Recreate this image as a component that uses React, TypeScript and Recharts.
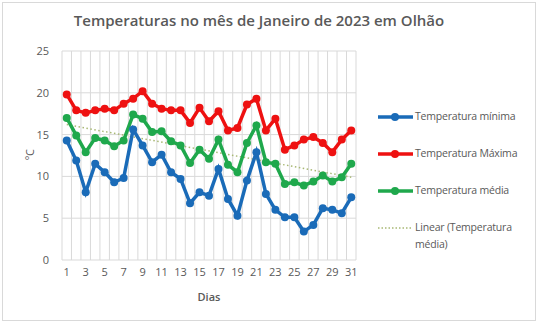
import React from "react";
import { LineChart, Line, XAxis, YAxis, CartesianGrid, ReferenceLine } from "recharts";

const days = [1, 2, 3, 4, 5, 6, 7, 8, 9, 10, 11, 12, 13, 14, 15, 16, 17, 18, 19, 20, 21, 22, 23, 24, 25, 26, 27, 28, 29, 30, 31];
const dayTicks = [1, 3, 5, 7, 9, 11, 13, 15, 17, 19, 21, 23, 25, 27, 29, 31];
const tempTicks = [0, 5, 10, 15, 20, 25];

const tempMin = [14.3, 11.9, 8.1, 11.5, 10.5, 9.3, 9.8, 15.6, 13.7, 11.7, 12.6, 10.5, 9.7, 6.8, 8.1, 7.7, 10.9, 7.3, 5.3, 9.5, 12.9, 7.9, 6.0, 5.1, 5.1, 3.4, 4.2, 6.2, 6.0, 5.6, 7.5];
const tempMax = [19.8, 17.9, 17.6, 17.9, 18.1, 17.9, 18.7, 19.3, 20.2, 18.7, 18.1, 17.9, 17.9, 16.4, 18.2, 16.6, 17.8, 15.5, 15.8, 18.6, 19.3, 15.5, 16.9, 13.2, 13.7, 14.4, 14.7, 14.0, 12.9, 14.4, 15.5];
const tempAvg = [17.0, 14.9, 12.9, 14.6, 14.3, 13.6, 14.3, 17.4, 16.9, 15.3, 15.4, 14.2, 13.7, 11.6, 13.2, 12.1, 14.4, 11.4, 10.5, 14.0, 16.1, 11.7, 11.5, 9.1, 9.3, 8.9, 9.4, 10.1, 9.4, 9.9, 11.5];

// linear trend of the average at day 1 and day 31
const trendStart = 16.2;
const trendEnd = 9.9;

const data = days.map((d, i) => ({ day: d, min: tempMin[i], max: tempMax[i], avg: tempAvg[i] }));
const boundaries = [0.5, ...days.map((d) => d + 0.5)];

const FONT = "'Open Sans', sans-serif";
const TEXT = "#595959";
const GRID = "#d9d9d9";
const BLUE = "#1a6bb8";
const RED = "#ee1111";
const GREEN = "#1fa84c";
const TREND = "#a8b874";

const tick = { fontSize: 11, fill: TEXT, fontFamily: FONT };

const LegendItem = ({ top, color, label, dotted }: { top: number; color: string; label: React.ReactNode; dotted?: boolean }) => (
  <div style={{ position: "absolute", left: 377, top, display: "flex", alignItems: "flex-start" }}>
    <svg width={38} height={12} style={{ marginTop: 1 }}>
      {dotted ? (
        <line x1={1} y1={6} x2={36} y2={6} stroke={color} strokeWidth={1.5} strokeDasharray="1.5 2" />
      ) : (
        <>
          <line x1={1} y1={6} x2={36} y2={6} stroke={color} strokeWidth={3.5} />
          <circle cx={18} cy={6} r={4} fill={color} />
        </>
      )}
    </svg>
    <div style={{ fontFamily: FONT, fontSize: 10.5, color: TEXT, lineHeight: "17px", marginTop: -2, letterSpacing: -0.2 }}>{label}</div>
  </div>
);

export default function App() {
  return (
    <div style={{ position: "fixed", left: 0, top: 0, width: 538, height: 323, background: "#fff" }}>
      <div style={{ position: "absolute", left: 2, top: 2, width: 532, height: 317, border: `1px solid ${GRID}` }} />
      <div style={{ position: "absolute", left: -10, top: 10, width: 538, textAlign: "center", fontFamily: FONT, fontSize: 15, fontWeight: 600, color: TEXT }}>
        Temperaturas no mês de Janeiro de 2023 em Olhão
      </div>
      <div style={{ position: "absolute", left: 0, top: 0 }}>
        <LineChart width={538} height={323} data={data} margin={{ top: 51, right: 182, bottom: 33, left: 20 }}>
          <CartesianGrid stroke={GRID} horizontal={true} vertical={false} />
          {boundaries.map((b) => (
            <ReferenceLine key={b} x={b} stroke={GRID} strokeWidth={1} />
          ))}
          <XAxis
            dataKey="day"
            type="number"
            domain={[0.5, 31.5]}
            ticks={dayTicks}
            interval={0}
            tick={tick}
            tickLine={false}
            axisLine={false}
            tickSize={0}
            tickMargin={8}
            height={30}
          />
          <YAxis
            domain={[0, 25]}
            ticks={tempTicks}
            tick={tick}
            tickLine={false}
            axisLine={false}
            tickSize={0}
            tickMargin={13}
            width={42}
          />
          <ReferenceLine
            segment={[
              { x: 1, y: trendStart },
              { x: 31, y: trendEnd },
            ]}
            stroke={TREND}
            strokeWidth={1.5}
            strokeDasharray="1.5 2.5"
          />
          <Line dataKey="min" stroke={BLUE} strokeWidth={3.5} dot={{ r: 4, fill: BLUE, stroke: BLUE, strokeWidth: 0 }} isAnimationActive={false} />
          <Line dataKey="max" stroke={RED} strokeWidth={3.5} dot={{ r: 4, fill: RED, stroke: RED, strokeWidth: 0 }} isAnimationActive={false} />
          <Line dataKey="avg" stroke={GREEN} strokeWidth={3.5} dot={{ r: 4, fill: GREEN, stroke: GREEN, strokeWidth: 0 }} isAnimationActive={false} />
        </LineChart>
      </div>
      <div style={{ position: "absolute", left: 22, top: 152, transform: "rotate(-90deg)", transformOrigin: "left top", fontFamily: FONT, fontSize: 11, color: TEXT }}>
        <span style={{ position: "absolute", left: -8, top: 0, whiteSpace: "nowrap" }}>ºC</span>
      </div>
      <div style={{ position: "absolute", left: 62, width: 294, top: 289, textAlign: "center", fontFamily: FONT, fontSize: 11, fontWeight: 600, color: TEXT }}>
        Dias
      </div>
      <LegendItem top={110} color={BLUE} label="Temperatura mínima" />
      <LegendItem top={147} color={RED} label="Temperatura Máxima" />
      <LegendItem top={184} color={GREEN} label="Temperatura média" />
      <LegendItem top={221} color={TREND} dotted label={<>Linear (Temperatura<br />média)</>} />
    </div>
  );
}
